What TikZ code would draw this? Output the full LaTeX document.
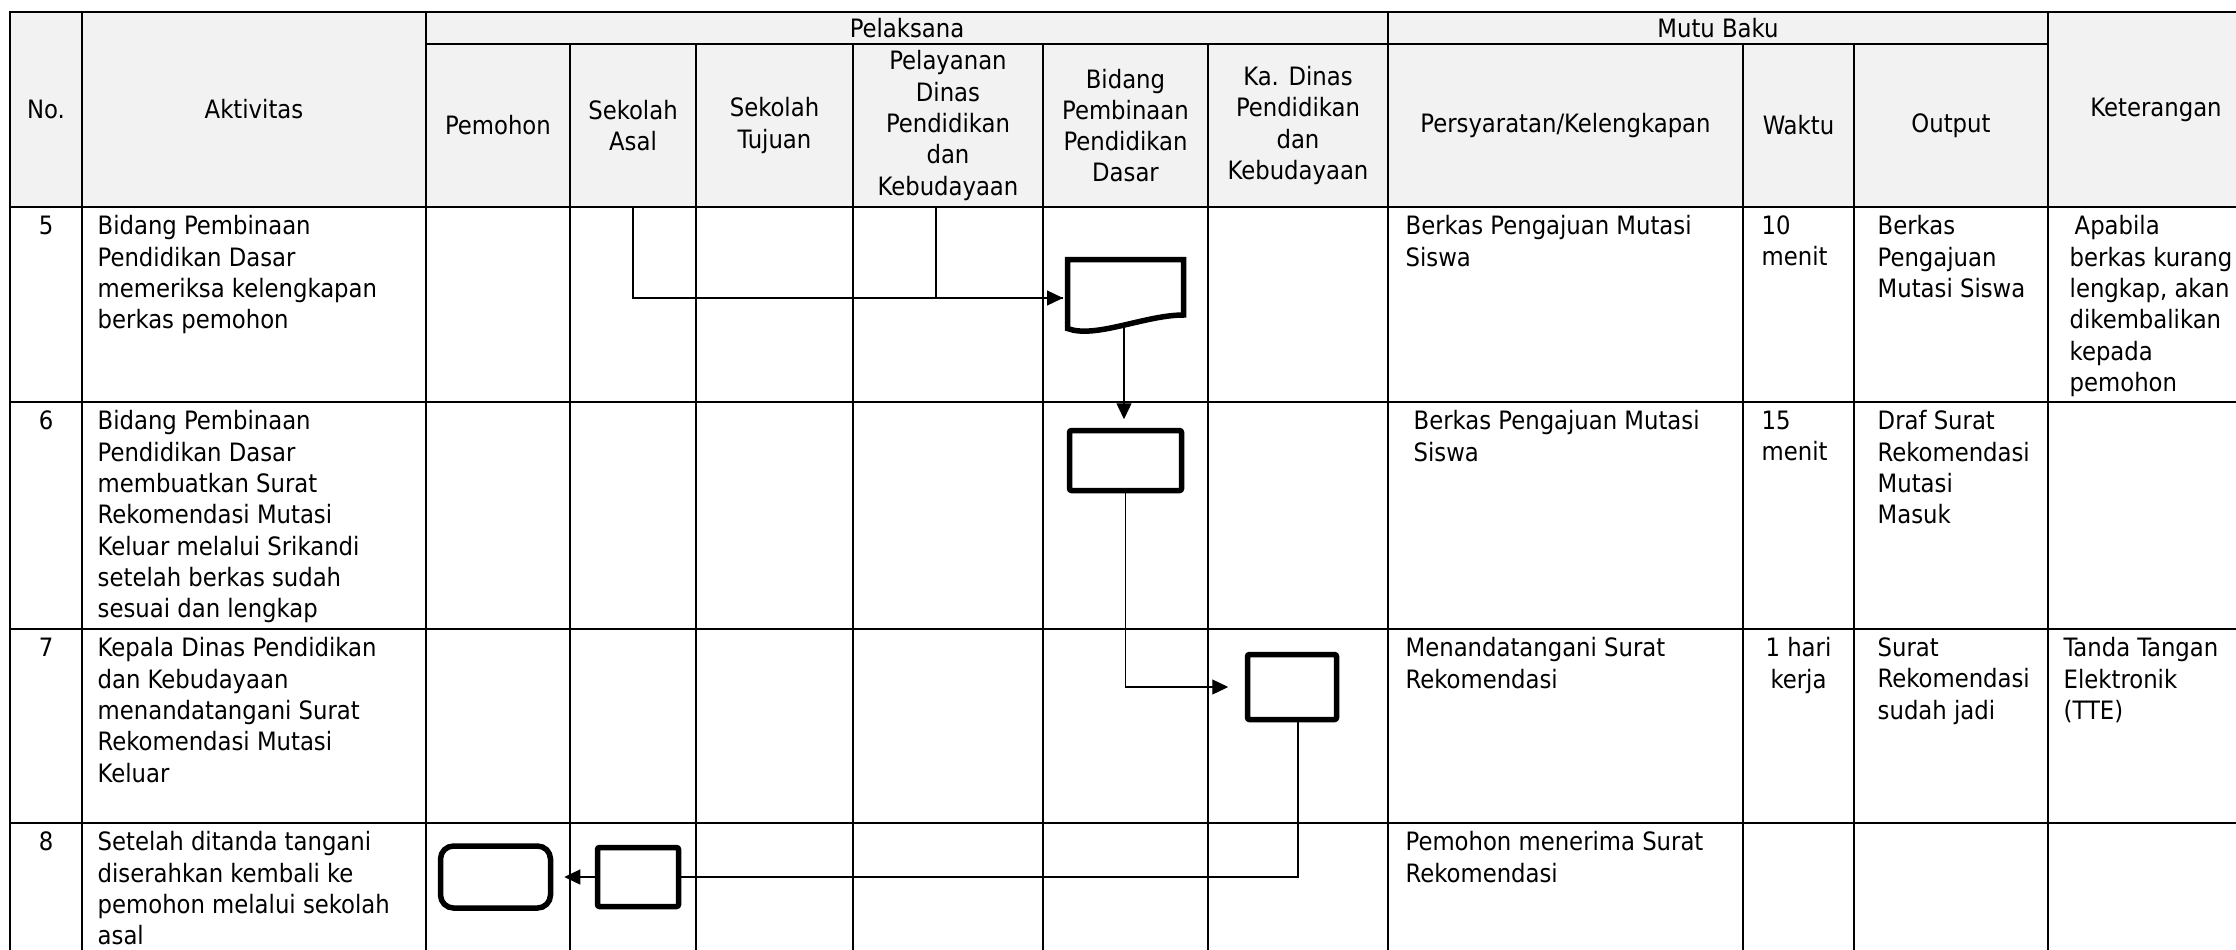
\documentclass[tikz,border=0pt]{standalone}
\usepackage{fontspec}
\setmainfont{DejaVu Sans Condensed}
\usetikzlibrary{arrows.meta}
\definecolor{grey95}{HTML}{F2F2F2}

\tikzset{
  every node/.style={font=\fontsize{7.2}{8.9}\selectfont},
  grid/.style={line width=0.02cm, line cap=rect},
  head/.style={inner sep=0pt, align=center},
  txt/.style={inner sep=0pt, align=left, anchor=north west},
  num/.style={inner sep=0pt, anchor=north},
  proc/.style={draw, line width=0.055cm, rounded corners=0.02cm, minimum width=1.12cm, minimum height=0.60cm, inner sep=0pt},
  term/.style={draw, line width=0.055cm, rounded corners=0.13cm, minimum width=1.10cm, minimum height=0.62cm, inner sep=0pt},
  wire/.style={line width=0.013cm},
  flow/.style={wire, -{Triangle[length=0.16cm, width=0.15cm]}},
}

\begin{document}
\begin{tikzpicture}[x=1cm, y=-1cm]

  \useasboundingbox (0,0) rectangle (22.36,9.49);
  \clip (0,0) rectangle (22.36,9.49);

  % HEADER BACKGROUND
  \fill[grey95] (0.10,0.12) rectangle (22.64,2.07);

  % GRID
  \foreach \y in {0.12,2.07,4.02,6.29,8.23}{
    \draw[grid] (0.10,\y) -- (22.64,\y);
  }
  \draw[grid] (4.26,0.44) -- (20.48,0.44);
  \foreach \x in {0.10,0.82,4.26,13.88,20.48,22.64}{
    \draw[grid] (\x,0.12) -- (\x,9.70);
  }
  \foreach \x in {5.70,6.96,8.53,10.43,12.08,17.43,18.54}{
    \draw[grid] (\x,0.44) -- (\x,9.70);
  }

  % HEADER TEXT
  \node[head] (hno) at (0.46,1.095) {No.};
  \node[head] (hakt) at (2.54,1.095) {Aktivitas};
  \node[head] (hpel) at (9.07,0.28) {Pelaksana};
  \node[head] (hmutu) at (17.18,0.28) {Mutu Baku};
  \node[head] (hket) at (21.56,1.095) {Keterangan};
  \node[head] (hpem) at (4.98,1.255) {Pemohon};
  \node[head] (hasal) at (6.33,1.255) {Sekolah\\Asal};
  \node[head] (htuju) at (7.745,1.255) {Sekolah\\Tujuan};
  \node[head] (hlayan) at (9.48,1.255) {Pelayanan\\Dinas\\Pendidikan\\dan\\Kebudayaan};
  \node[head] (hbid) at (11.255,1.255) {Bidang\\Pembinaan\\Pendidikan\\Dasar};
  \node[head] (hkadis) at (12.98,1.255) {Ka. Dinas\\Pendidikan\\dan\\Kebudayaan};
  \node[head] (hsyarat) at (15.655,1.255) {Persyaratan/Kelengkapan};
  \node[head] (hwaktu) at (17.985,1.255) {Waktu};
  \node[head] (hout) at (19.51,1.255) {Output};

  % ROW 5
  \node[num] (n5) at (0.46,2.15) {5};
  \node[txt] (akt5) at (0.97,2.15) {Bidang Pembinaan\\Pendidikan Dasar\\memeriksa kelengkapan\\berkas pemohon};
  \node[txt] (syarat5) at (14.05,2.15) {Berkas Pengajuan Mutasi\\Siswa};
  \node[txt] (waktu5) at (17.61,2.15) {10\\menit};
  \node[txt] (out5) at (18.77,2.15) {Berkas\\Pengajuan\\Mutasi Siswa};
  \node[txt] (ket5) at (20.69,2.15) {\hspace{0.05cm}Apabila\\berkas kurang\\lengkap, akan\\dikembalikan\\kepada\\pemohon};

  % ROW 6
  \node[num] (n6) at (0.46,4.10) {6};
  \node[txt] (akt6) at (0.97,4.10) {Bidang Pembinaan\\Pendidikan Dasar\\membuatkan Surat\\Rekomendasi Mutasi\\Keluar melalui Srikandi\\setelah berkas sudah\\sesuai dan lengkap};
  \node[txt] (syarat6) at (14.13,4.10) {Berkas Pengajuan Mutasi\\Siswa};
  \node[txt] (waktu6) at (17.61,4.10) {15\\menit};
  \node[txt] (out6) at (18.77,4.10) {Draf Surat\\Rekomendasi\\Mutasi\\Masuk};

  % ROW 7
  \node[num] (n7) at (0.46,6.37) {7};
  \node[txt] (akt7) at (0.97,6.37) {Kepala Dinas Pendidikan\\dan Kebudayaan\\menandatangani Surat\\Rekomendasi Mutasi\\Keluar};
  \node[txt] (syarat7) at (14.05,6.37) {Menandatangani Surat\\Rekomendasi};
  \node[num, align=center] (waktu7) at (17.985,6.37) {1 hari\\kerja};
  \node[txt] (out7) at (18.77,6.37) {Surat\\Rekomendasi\\sudah jadi};
  \node[txt] (ket7) at (20.63,6.37) {Tanda Tangan\\Elektronik\\(TTE)};

  % ROW 8
  \node[num] (n8) at (0.46,8.31) {8};
  \node[txt] (akt8) at (0.97,8.31) {Setelah ditanda tangani\\diserahkan kembali ke\\pemohon melalui sekolah\\asal};
  \node[txt] (syarat8) at (14.05,8.31) {Pemohon menerima Surat\\Rekomendasi};

  % DOCUMENT
  \draw[line width=0.055cm, fill=white] (10.675,2.595) -- (11.835,2.595) -- (11.835,3.15)
    .. controls (11.45,3.15) and (10.95,3.39) .. (10.675,3.285) -- cycle;
  \coordinate (doc5in) at (10.63,2.98);
  \coordinate (doc5out) at (11.24,3.26);

  % BOXES
  \node[proc] (proc6) at (11.255,4.605) {};
  \node[proc, minimum width=0.89cm, minimum height=0.65cm] (ttd7) at (12.92,6.87) {};
  \node[proc, minimum width=0.81cm, minimum height=0.59cm] (asal8) at (6.38,8.77) {};
  \node[term] (pem8) at (4.955,8.77) {};

  % ARROWS
  \coordinate (asal5) at (6.33,2.07);
  \coordinate (layan5) at (9.36,2.07);
  \draw[flow] (asal5) |- (doc5in);
  \draw[wire] (layan5) |- (doc5in);
  \draw[flow, shorten >=0.085cm] (doc5out) -- (doc5out |- proc6.north);
  \draw[flow, shorten >=0.165cm] (proc6.south) |- (ttd7.west);
  \draw[wire] ([xshift=0.06cm]ttd7.south) |- (asal8.east);
  \draw[flow, shorten >=0.11cm] (asal8.west) -- (pem8.east);

\end{tikzpicture}
\end{document}
